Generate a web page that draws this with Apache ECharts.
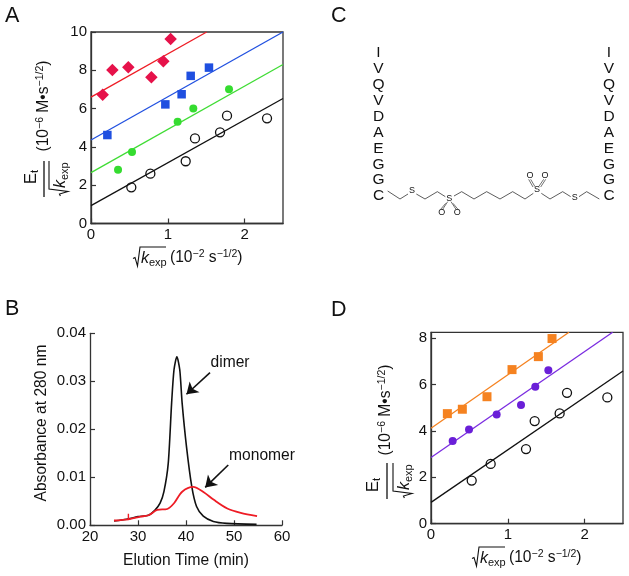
<!DOCTYPE html>
<html><head><meta charset="utf-8"><style>html,body{margin:0;padding:0;background:#fff}#c{width:629px;height:576px}</style>
<script src="https://cdn.jsdelivr.net/npm/echarts@6/dist/echarts.min.js"></script></head>
<body><div id="c"></div><script>
const aBlack=[[0.525,1.89],[0.773,2.60],[1.233,3.25],[1.354,4.44],[1.68,4.76],[1.771,5.63],[2.292,5.49]];
const aGreen=[[0.352,2.81],[0.534,3.73],[1.128,5.31],[1.332,6.01],[1.797,7.01]];
const aBlue=[[0.213,4.62],[0.968,6.22],[1.18,6.75],[1.298,7.71],[1.536,8.14]];
const aRed=[[0.152,6.72],[0.278,8.02],[0.486,8.16],[0.786,7.64],[0.942,8.47],[1.037,9.64]];
const aBlackFit=[[0,0.93],[2.5,6.53]];
const aGreenFit=[[0,2.66],[2.5,8.30]];
const aBlueFit=[[0,4.36],[2.5,10]];
const aRedFit=[[0,6.6],[1.506,10]];
const dOrange=[[0.213,4.75],[0.408,4.94],[0.729,5.48],[1.055,6.65],[1.398,7.21],[1.576,7.99]];
const dPurple=[[0.282,3.57],[0.495,4.07],[0.855,4.71],[1.172,5.12],[1.358,5.91],[1.528,6.62]];
const dBlack=[[0.53,1.86],[0.777,2.58],[1.237,3.22],[1.35,4.43],[1.675,4.76],[1.771,5.65],[2.296,5.45]];
const dOrangeFit=[[0,4.12],[1.797,8.26]];
const dPurpleFit=[[0,2.86],[2.365,8.26]];
const dBlackFit=[[0,0.92],[2.5,6.59]];
const bDimer=[[25,.0009],[27.6,.00125],[30,.0018],[32.2,.0021],[33.5,.0031],[34.6,.0046],[35.4,.0070],[36.3,.0129],[37,.0254],[37.5,.0324],[38.1,.0351],[38.7,.0324],[39.2,.0254],[40.1,.0164],[41.2,.0081],[42.2,.0039],[43.6,.0019],[45.7,.0008],[48.5,.0004],[54.7,.0002]];
const bMonomer=[[25,.0010],[28,.00125],[30.5,.0018],[32.2,.0021],[34,.0032],[36.1,.0034],[37.5,.0046],[39.2,.0070],[41.5,.0080],[43.7,.0069],[45.8,.0053],[48.6,.0035],[51.4,.0026],[54.8,.0019]];
const bMonomerSpike=[[28,.0012],[28,.0024]];
const seqLetters=["I","V","Q","V","D","A","E","G","G","C"];
const panelLetters=[["A",5,16],["B",5,309],["C",331,16],["D",331,310]];

const FONT='"Liberation Sans",Arial,sans-serif';
const TS=15.6, TICK=15;
const axisBase=(extra)=>Object.assign({type:'value',splitLine:{show:false},
  axisLine:{show:true,onZero:false,lineStyle:{color:'#333',width:1.3}},
  axisTick:{inside:true,length:5,lineStyle:{color:'#333',width:1.2}},
  axisLabel:{color:'#111',fontFamily:FONT,fontSize:TICK,margin:4}},extra);
function customAxis(min,max,vals,extra){
  const a=axisBase(Object.assign({min,max},extra||{}));
  a.axisTick.customValues=vals;a.axisLabel.customValues=vals;return a;
}
function line(data,color,x,w){return {type:'line',data,xAxisIndex:x,yAxisIndex:x,symbol:'none',silent:true,z:2,lineStyle:{color,width:w||1.3}};}
function dots(data,sym,size,color,x){return {type:'scatter',data,xAxisIndex:x,yAxisIndex:x,symbol:sym,symbolSize:size,z:3,itemStyle:{color,opacity:1}};}
function rings(data,x){return {type:'scatter',data,xAxisIndex:x,yAxisIndex:x,symbol:'circle',symbolSize:9,z:3,itemStyle:{color:'rgba(0,0,0,0)',borderColor:'#111',borderWidth:1.3,opacity:1}};}
function txt(text,x,y,size,o){o=o||{};return {type:'text',x,y,rotation:o.rot||0,style:{text,fontSize:size,fontFamily:FONT,fill:'#111',align:o.align||'center',verticalAlign:'middle',fontStyle:o.italic?'italic':'normal',rich:o.rich}};}
const supRich=(s)=>({sup:{fontSize:10.5,fontFamily:FONT,fill:'#111',verticalAlign:'top',lineHeight:11},n:{fontSize:s,fontFamily:FONT,fill:'#111',lineHeight:19}});
const pl=(pts,w,c)=>({type:'polyline',shape:{points:pts},style:{stroke:c||'#111',lineWidth:w||1,fill:null}});
function sqrtK(x,y,rot,len,h){
  return {type:'group',x,y,rotation:rot,children:[
    pl([[0,h*0.6],[2,h*0.55],[4.5,h],[7,0],[len,0]],1.1),
    {type:'text',x:8,y:h*0.62,style:{text:'{k|k}{e|exp}',verticalAlign:'middle',align:'left',rich:{
      k:{fontSize:16,fontStyle:'italic',fontFamily:FONT,fill:'#111',lineHeight:20,verticalAlign:'middle'},
      e:{fontSize:11,fontFamily:FONT,fill:'#111',verticalAlign:'bottom',lineHeight:11}}}}
  ]};
}
function xLabel(x,y){return [sqrtK(x,y,0,33,19),{type:'text',x:x+37,y:y+11,style:{text:'{n|(10}{sup|−2}{n| s}{sup|−1/2}{n|)}',align:'left',verticalAlign:'middle',rich:supRich(15.6)}}];}
function yLabel(xE,yE,xBar,xSq,yBot,len,xU,yU){
  return [txt('{n|E}{s|t}',xE,yE,17,{rot:Math.PI/2,rich:{n:{fontSize:17,fontFamily:FONT,fill:'#111',lineHeight:20},s:{fontSize:11.5,fontFamily:FONT,fill:'#111',verticalAlign:'bottom',lineHeight:12}}}),
    pl([[xBar,yBot+1],[xBar,yBot-len]],1.3),
    sqrtK(xSq,yBot,Math.PI/2,len,19),
    {type:'text',x:xU,y:yU,rotation:Math.PI/2,style:{text:'{n|(10}{sup|−6}{n| M•s}{sup|−1/2}{n|)}',align:'center',verticalAlign:'middle',rich:supRich(15.6)}}];
}
const Z=(p)=>p.map(q=>[320+q[0]/3,q[1]/3]);
const chain=[[203,573],[240,597],[264,582]];
const chain2=[[289,582],[315,597],[352,575],[376,590]];
const chain3=[[402,588],[425,575],[462,597],[500,575],[540,597],[578,575],[615,597],[640,580]];
const chain4=[[664,580],[690,597],[728,575],[752,590]];
const chain5=[[777,590],[800,575],[838,597]];
const bonds=[[[383,605],[368,628],[377,610],[362,628]],[[393,605],[408,628],[399,610],[414,628]],[[645,560],[632,538],[639,561],[626,538]],[[656,560],[671,538],[662,561],[677,538]]];
const gfx=[];
panelLetters.forEach(p=>gfx.push(txt(p[0],p[1],p[2],21.5,{align:'left'})));
gfx.push(...xLabel(133,247),...xLabel(472,547));
gfx.push(...yLabel(31,177,44,49,196,35,44,106));
gfx.push(...yLabel(373,485,387,393,498,35,386,410));
gfx.push(txt('Absorbance at 280 nm',42,423,TS,{rot:Math.PI/2}));
gfx.push(txt('Elution Time (min)',186,561,TS));
gfx.push(txt('dimer',230,362.5,TS));
gfx.push(txt('monomer',262,456,TS));
seqLetters.forEach((l,i)=>{const y=53+i*15.9;gfx.push(txt(l,378.5,y,15.5));gfx.push(txt(l,609,y,15.5));});
[chain,chain2,chain3,chain4,chain5].forEach(c=>gfx.push(pl(Z(c),0.8,'#333')));
bonds.forEach(b=>{const z=Z(b);gfx.push(pl([z[0],z[1]],0.7,'#333'),pl([z[2],z[3]],0.7,'#333'));});
[[276,572],[388,595],[651,570],[764,594]].forEach(s=>{const q=Z([s])[0];gfx.push(txt('S',q[0],q[1],9));});
[[365,638],[412,638],[630,527],[675,527]].forEach(s=>{const q=Z([s])[0];gfx.push(txt('O',q[0],q[1],9));});

const arrow=(from,to)=>[{coord:from},{coord:to}];
const option={animation:false,backgroundColor:'#fff',
 grid:[
  {left:91,top:32,width:192,height:191.5,show:true,borderColor:'#333',borderWidth:1.3,backgroundColor:'transparent'},
  {left:90,top:333.3,width:192,height:192,show:false},
  {left:431,top:332.3,width:192,height:191.4,show:true,borderColor:'#333',borderWidth:1.3,backgroundColor:'transparent'}],
 xAxis:[
  customAxis(0,2.5,[0,1,2],{gridIndex:0}),
  axisBase({gridIndex:1,min:20,max:60,interval:10}),
  customAxis(0,2.5,[0,1,2],{gridIndex:2})],
 yAxis:[
  customAxis(0,10,[0,2,4,6,8,10],{gridIndex:0}),
  axisBase({gridIndex:1,min:0,max:0.04,interval:0.01,axisLabel:{color:'#111',fontFamily:FONT,fontSize:TICK,margin:4,formatter:v=>v.toFixed(2)}}),
  customAxis(0,8.26,[0,2,4,6,8],{gridIndex:2})],
 series:[
  line(aBlackFit,'#111',0),line(aGreenFit,'#3fdc34',0),line(aBlueFit,'#2050e0',0),line(aRedFit,'#ee1c25',0),
  rings(aBlack,0),dots(aGreen,'circle',8,'#35dc30',0),dots(aBlue,'rect',8.5,'#1f4fe0',0),dots(aRed,'diamond',12.5,'#e6124a',0),
  {type:'line',data:bDimer,xAxisIndex:1,yAxisIndex:1,symbol:'none',smooth:0.25,z:2,lineStyle:{color:'#111',width:1.6},
    markLine:{silent:true,symbol:['none','arrow'],symbolSize:11,label:{show:false},lineStyle:{color:'#111',width:1.6,type:'solid'},
      data:[arrow([45,0.0318],[40.1,0.0273]),arrow([48.8,0.01257],[44,0.0079])]}},
  {type:'line',data:bMonomer,xAxisIndex:1,yAxisIndex:1,symbol:'none',smooth:0.3,z:3,lineStyle:{color:'#ee1c25',width:1.8}},
  {type:'line',data:bMonomerSpike,xAxisIndex:1,yAxisIndex:1,symbol:'none',z:3,lineStyle:{color:'#ee1c25',width:1.4}},
  line(dOrangeFit,'#f58220',2),line(dPurpleFit,'#7a2be0',2),line(dBlackFit,'#111',2),
  rings(dBlack,2),dots(dPurple,'circle',8,'#6a1fd8',2),dots(dOrange,'rect',9,'#f58220',2)
 ],
 graphic:{elements:gfx}};
echarts.init(document.getElementById('c'),null,{renderer:'canvas'}).setOption(option);
</script></body></html>
